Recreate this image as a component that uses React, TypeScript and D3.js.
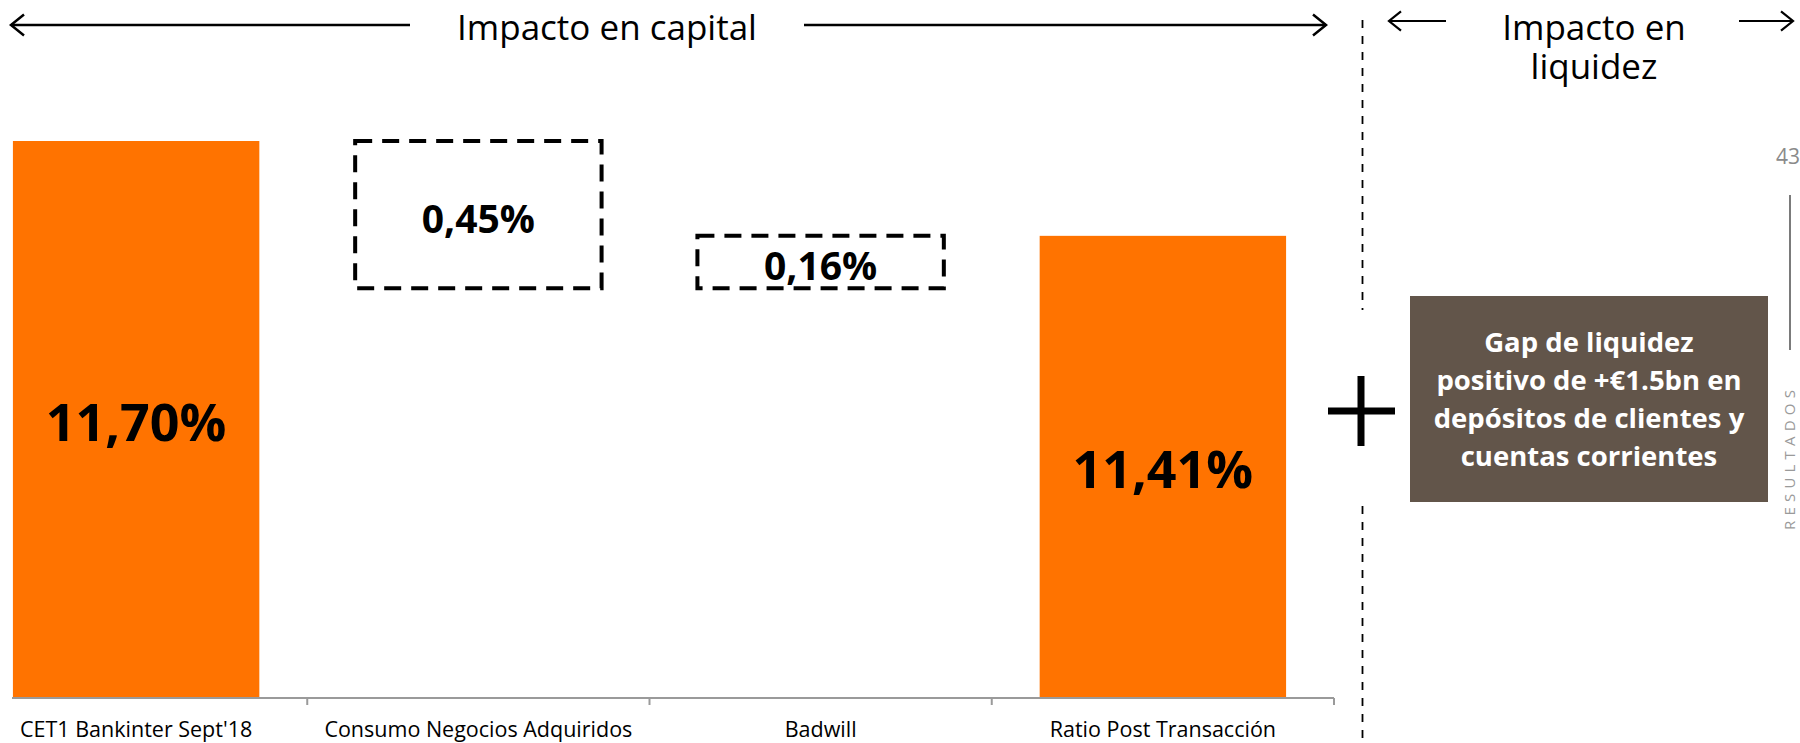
import React from "react";
import * as d3 from "d3";

// CET1 capital walk
const categories = [
  "CET1 Bankinter Sept'18",
  "Consumo Negocios Adquiridos",
  "Badwill",
  "Ratio Post Transacción",
];
const kinds = ["total", "delta", "delta", "total"];
const values = [11.7, -0.45, 0.16, 11.41];

const liquidityLines = [
  "Gap de liquidez",
  "positivo de +€1.5bn en",
  "depósitos de clientes y",
  "cuentas corrientes",
];

const W = 1800;
const H = 743;
const ORANGE = "#FF7300";
const BROWN = "#62554A";
const FONT = "'Open Sans', 'Noto Sans', sans-serif";

const fmt = (v: number) => Math.abs(v).toFixed(2).replace(".", ",") + "%";

export default function App() {
  const x = d3
    .scaleBand<string>()
    .domain(categories)
    .range([-35, 1334])
    .paddingInner(0.28)
    .paddingOuter(0.14);
  const y = d3.scaleLinear().domain([10, 11.7]).range([697, 141]);
  const step = x.step();
  const baseY = y(10);

  // running totals for the floating steps
  let running = 0;
  const marks = categories.map((c, i) => {
    const v = values[i];
    if (kinds[i] === "total") {
      running = v;
      return { c, kind: "total", y0: 10, y1: v, v };
    }
    const start = running;
    running = start + v;
    return { c, kind: "delta", y0: Math.min(start, running), y1: Math.max(start, running), v };
  });

  const tickXs = d3.range(1, categories.length + 1).map((i) => (x.range()[0] as number) + i * step);

  const arrowHead = (px: number, py: number, dir: number, s: number) =>
    `M${px - dir * s},${py - s * 0.8} L${px},${py} L${px - dir * s},${py + s * 0.8}`;

  const boxX0 = 1410;
  const boxX1 = 1768;
  const boxY0 = 296;
  const boxY1 = 502;
  const boxCy = (boxY0 + boxY1) / 2;
  const lineGap = 38;

  return (
    <svg
      width={W}
      height={H}
      style={{ position: "absolute", left: 0, top: 0, background: "#fff" }}
      fontFamily={FONT}
    >
      {/* section headers */}
      <g stroke="#000" strokeWidth={2.5} fill="none">
        <line x1={11} y1={25} x2={410} y2={25} />
        <path d={arrowHead(11, 25, -1, 13)} />
        <line x1={804} y1={25} x2={1326} y2={25} />
        <path d={arrowHead(1326, 25, 1, 13)} />
        <line x1={1389} y1={21} x2={1446} y2={21} strokeWidth={2.2} />
        <path d={arrowHead(1389, 21, -1, 12)} strokeWidth={2.2} />
        <line x1={1739} y1={21} x2={1793} y2={21} strokeWidth={2.2} />
        <path d={arrowHead(1793, 21, 1, 12)} strokeWidth={2.2} />
      </g>
      <text x={607} y={40} textAnchor="middle" fontSize={35} fill="#000">
        Impacto en capital
      </text>
      <text textAnchor="middle" fontSize={35} fill="#000">
        <tspan x={1594} y={40}>Impacto en</tspan>
        <tspan x={1594} y={79}>liquidez</tspan>
      </text>

      {/* divider between capital and liquidity */}
      <g stroke="#000" strokeWidth={1.8} strokeDasharray="8,8">
        <line x1={1362.5} y1={20} x2={1362.5} y2={310} />
        <line x1={1362.5} y1={506} x2={1362.5} y2={H} />
      </g>

      {/* bars and floating steps */}
      {marks.map((m) => {
        const bx = x(m.c) as number;
        const bw = x.bandwidth();
        const top = y(m.y1);
        const bottom = y(m.y0);
        const cx = bx + bw / 2;
        const cy = (top + bottom) / 2;
        if (m.kind === "total") {
          return (
            <g key={m.c}>
              <rect x={bx} y={top} width={bw} height={bottom - top} fill={ORANGE} />
              <text x={cx} y={cy + 22} textAnchor="middle" fontSize={52} fontWeight={700} fill="#000">
                {fmt(m.v)}
              </text>
            </g>
          );
        }
        return (
          <g key={m.c}>
            <rect
              x={bx}
              y={top}
              width={bw}
              height={bottom - top}
              fill="none"
              stroke="#000"
              strokeWidth={4}
              strokeDasharray="17,10"
            />
            <text x={cx} y={cy + 18} textAnchor="middle" fontSize={39} fontWeight={700} fill="#000">
              {fmt(m.v)}
            </text>
          </g>
        );
      })}

      {/* category axis */}
      <g stroke="#9a9a9a" strokeWidth={2}>
        <line x1={12} y1={baseY + 1} x2={tickXs[tickXs.length - 1]} y2={baseY + 1} />
        {tickXs.map((t, i) => (
          <line key={i} x1={t} y1={baseY + 1} x2={t} y2={baseY + 8} />
        ))}
      </g>
      {categories.map((c) => (
        <text
          key={c}
          x={(x(c) as number) + x.bandwidth() / 2}
          y={737}
          textAnchor="middle"
          fontSize={21.5}
          fill="#000"
        >
          {c}
        </text>
      ))}

      {/* plus sign */}
      <g stroke="#000" strokeWidth={7}>
        <line x1={1328} y1={411} x2={1395} y2={411} />
        <line x1={1361} y1={376} x2={1361} y2={446} />
      </g>

      {/* liquidity call-out */}
      <rect x={boxX0} y={boxY0} width={boxX1 - boxX0} height={boxY1 - boxY0} fill={BROWN} />
      {liquidityLines.map((l, i) => (
        <text
          key={l}
          x={(boxX0 + boxX1) / 2}
          y={boxCy + (i - (liquidityLines.length - 1) / 2) * lineGap + 10}
          textAnchor="middle"
          fontSize={27.5}
          fontWeight={700}
          fill="#fff"
        >
          {l}
        </text>
      ))}

      {/* page marker */}
      <text x={1776} y={164} fontSize={21} fill="#8a8a8a">
        43
      </text>
      <line x1={1790} y1={195} x2={1790} y2={350} stroke="#222" strokeWidth={1.2} />
      <text
        transform="translate(1795,530) rotate(-90)"
        fontSize={15}
        letterSpacing={5.2}
        fill="#9a9a9a"
      >
        RESULTADOS
      </text>
    </svg>
  );
}
